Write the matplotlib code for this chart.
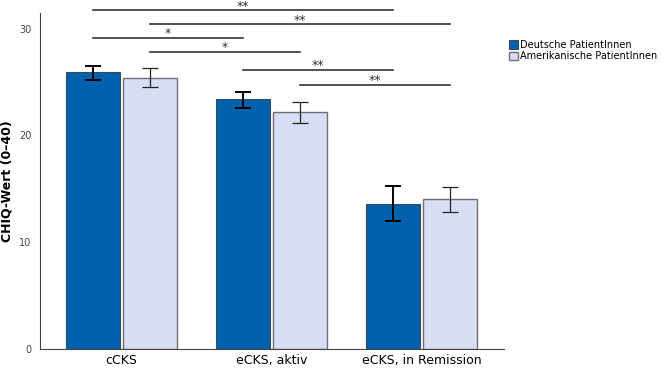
import matplotlib.pyplot as plt
import numpy as np

# data
groups = ["cCKS", "eCKS, aktiv", "eCKS, in Remission"]
series_names = ["Deutsche PatientInnen", "Amerikanische PatientInnen"]
de_mean = [25.9, 23.4, 13.6]
de_lo = [25.2, 22.6, 12.0]
de_hi = [26.5, 24.1, 15.3]
us_mean = [25.4, 22.2, 14.0]
us_lo = [24.5, 21.2, 12.8]
us_hi = [26.3, 23.1, 15.2]

# significance brackets: (group a, series a, group b, series b, y, label)
sig_pairs = [
    (0, 0, 2, 0, 31.7, "**"),
    (0, 1, 2, 1, 30.4, "**"),
    (0, 0, 1, 0, 29.1, "*"),
    (0, 1, 1, 1, 27.8, "*"),
    (1, 0, 2, 0, 26.1, "**"),
    (1, 1, 2, 1, 24.7, "**"),
]

dark = "#0062ad"
light = "#d6ddf4"

fig = plt.figure(figsize=(6.61, 3.69), dpi=100)
ax = fig.add_axes([40 / 661, 20 / 369, 464 / 661, 336.5 / 369])

x = np.arange(len(groups))
w = 0.36
off = 0.19
ax.bar(x - off, de_mean, width=w, color=dark, edgecolor="#3a4a5a",
       linewidth=0.8, label=series_names[0], zorder=2)
ax.bar(x + off, us_mean, width=w, color=light, edgecolor="#707070",
       linewidth=1.0, label=series_names[1], zorder=2)

de_err = [np.subtract(de_mean, de_lo), np.subtract(de_hi, de_mean)]
us_err = [np.subtract(us_mean, us_lo), np.subtract(us_hi, us_mean)]
ax.errorbar(x - off, de_mean, yerr=de_err, fmt="none", ecolor="black",
            elinewidth=1.4, capsize=5.8, capthick=1.4, zorder=3)
ax.errorbar(x + off, us_mean, yerr=us_err, fmt="none", ecolor="#222222",
            elinewidth=0.9, capsize=5.8, capthick=0.9, zorder=3)


def pos(g, s):
    return g - off if s == 0 else g + off


for ga, sa, gb, sb, y, lab in sig_pairs:
    x0, x1 = pos(ga, sa), pos(gb, sb)
    ax.plot([x0, x1], [y, y], color="#333333", lw=1.2, clip_on=False)
    ax.annotate(lab, xy=((x0 + x1) / 2, y), xytext=(0, 0.5),
                textcoords="offset points", ha="center", va="baseline",
                fontsize=9, color="#333333", annotation_clip=False)

ax.set_xlim(-0.543, 2.55)
ax.set_ylim(0, 31.5)
ax.set_yticks([0, 10, 20, 30])
ax.set_xticks(x)
ax.set_xticklabels(groups, fontsize=9)
ax.tick_params(axis="both", length=0)
ax.tick_params(axis="y", labelsize=7, labelcolor="#444444", pad=6)
ax.set_ylabel("CHIQ-Wert (0\u201340)", fontsize=9, fontweight="bold")
for side in ["top", "right"]:
    ax.spines[side].set_visible(False)
for side in ["left", "bottom"]:
    ax.spines[side].set_color("#444444")

ax.legend(loc="upper left", bbox_to_anchor=(504 / 661, 1 - 35 / 369),
          bbox_transform=fig.transFigure, frameon=False, fontsize=7,
          handlelength=0.9, handleheight=0.9, handletextpad=0.25,
          labelspacing=0.15, borderpad=0)

fig.savefig("out.png", dpi=100)
